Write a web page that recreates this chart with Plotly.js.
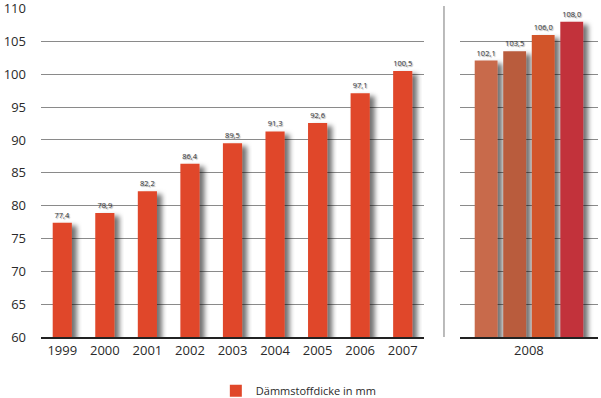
<!DOCTYPE html>
<html>
<head>
<meta charset="utf-8">
<script src="https://cdn.plot.ly/plotly-3.0.1.min.js"></script>
<style>
html,body{margin:0;padding:0;background:#fff;}
#chart{width:601px;height:398px;}
</style>
</head>
<body>
<div id="chart"></div>
<script>
const years = ["1999","2000","2001","2002","2003","2004","2005","2006","2007"];
const values = [77.4, 78.9, 82.2, 86.4, 89.5, 91.3, 92.6, 97.1, 100.5];
const forecastPos = [0, 1, 2, 3];
const forecastValues = [102.1, 103.5, 106.0, 108.0];
const forecastColors = ["#c86a4c", "#b95b3c", "#d2542c", "#c2303a"];
const forecastLabel = ["2008"];
const seriesName = "Dämmstoffdicke in mm";
const yTicks = [60,65,70,75,80,85,90,95,100,105,110];

const labelFont = {family:"Open Sans, sans-serif", size:7.5, color:"#333", shadow:"1px 1px 1px #999"};

const traces = [
  {type:"bar", x:years, y:values, name:seriesName, xaxis:"x", yaxis:"y",
   marker:{color:"#e0472a"}, width:0.45,
   text:values, texttemplate:"%{y:.1f}", textposition:"outside",
   textfont:labelFont, cliponaxis:false, hoverinfo:"none"},
  {type:"bar", x:forecastPos, y:forecastValues, name:seriesName, xaxis:"x2", yaxis:"y2",
   marker:{color:forecastColors}, width:0.8, showlegend:false,
   text:forecastValues, texttemplate:"%{y:.1f}", textposition:"outside",
   textfont:labelFont, cliponaxis:false, hoverinfo:"none"}
];

const gridC = "#8a8a8a";
const layout = {
  width:601, height:398,
  margin:{l:41, r:3, t:8, b:61, autoexpand:false},
  paper_bgcolor:"#fff", plot_bgcolor:"rgba(0,0,0,0)",
  separators:",.",
  font:{family:"Open Sans, sans-serif", size:13, color:"#2a2a2a"},
  showlegend:true,
  legend:{orientation:"h", x:0.462, xanchor:"center", yref:"container", y:0.018, yanchor:"middle",
          font:{size:11, color:"#2a2a2a"}, itemwidth:30},
  xaxis:{domain:[0, 0.6876], type:"category", range:[-0.5, 8.5],
         showline:true, linecolor:"#222", linewidth:2, ticks:"", showgrid:false,
         tickfont:{size:13, color:"#2a2a2a"}},
  xaxis2:{domain:[0.752, 1], anchor:"y2", range:[-0.92, 3.92],
          tickvals:[1.5], ticktext:forecastLabel,
          showline:true, linecolor:"#222", linewidth:2, ticks:"", showgrid:false, zeroline:false,
          tickfont:{size:13, color:"#2a2a2a"}},
  yaxis:{range:[60,110.1], tickvals:yTicks, showgrid:true, gridcolor:gridC, gridwidth:1,
         zeroline:false, showline:false, ticks:"", ticklabelstandoff:14, ticklabeloverflow:"allow",
         tickfont:{size:13, color:"#2a2a2a"}},
  yaxis2:{anchor:"x2", range:[60,110.1], tickvals:yTicks, showgrid:true, gridcolor:gridC,
          gridwidth:1, zeroline:false, showticklabels:false, ticks:""},
  bargap:0.2,
  shapes:[{type:"line", xref:"paper", yref:"paper", x0:0.7235, x1:0.7235, y0:0, y1:1.006,
           line:{color:"#777", width:1}}]
};

Plotly.newPlot("chart", traces, layout, {displayModeBar:false, staticPlot:true}).then(function(gd){
  const svg = gd.querySelector("svg.main-svg");
  const ns = "http://www.w3.org/2000/svg";
  let defs = svg.querySelector("defs");
  if(!defs){ defs = document.createElementNS(ns,"defs"); svg.insertBefore(defs, svg.firstChild); }
  const f = document.createElementNS(ns,"filter");
  f.setAttribute("id","barshadow");
  f.setAttribute("x","-50%"); f.setAttribute("y","-20%");
  f.setAttribute("width","200%"); f.setAttribute("height","140%");
  const ds = document.createElementNS(ns,"feDropShadow");
  ds.setAttribute("dx","5"); ds.setAttribute("dy","3");
  ds.setAttribute("stdDeviation","2.5");
  ds.setAttribute("flood-color","#000"); ds.setAttribute("flood-opacity","0.55");
  f.appendChild(ds); defs.appendChild(f);
  gd.querySelectorAll(".trace.bars .point path").forEach(function(p){
    p.setAttribute("filter","url(#barshadow)");
  });
});
</script>
</body>
</html>
